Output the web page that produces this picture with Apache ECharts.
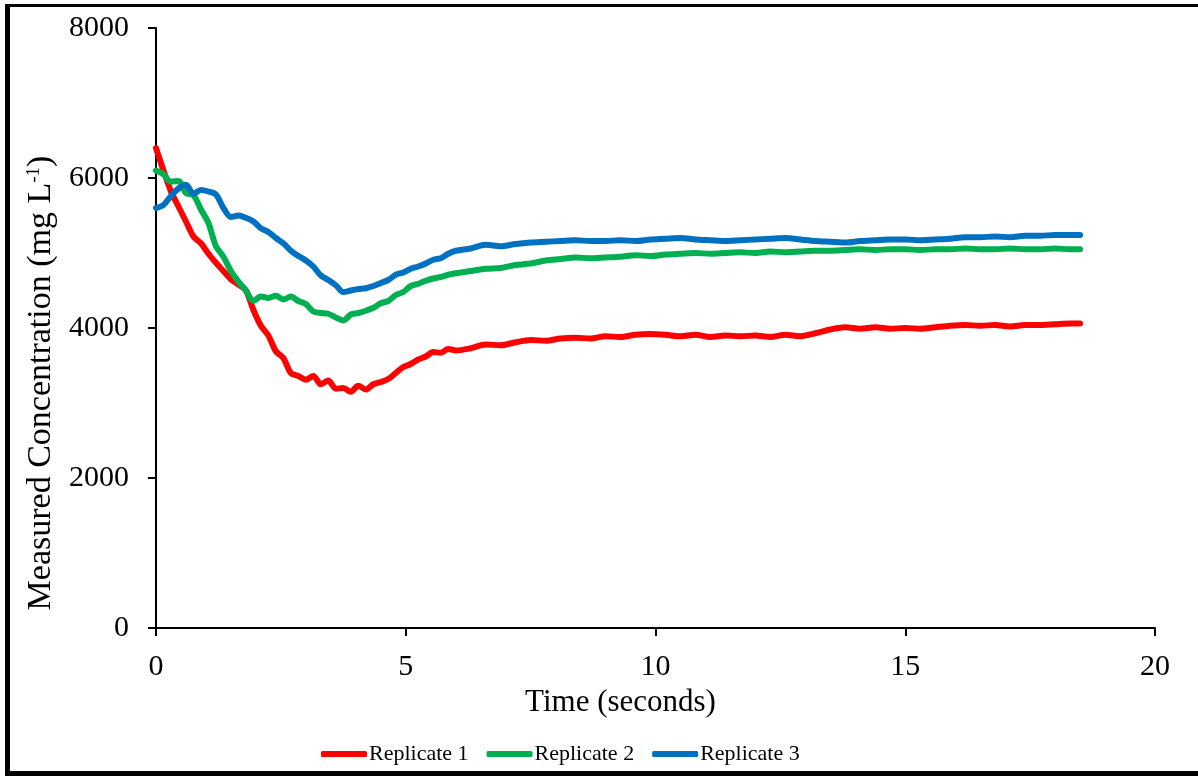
<!DOCTYPE html>
<html>
<head>
<meta charset="utf-8">
<script src="https://cdn.jsdelivr.net/npm/echarts@6/dist/echarts.min.js"></script>
<style>
html,body{margin:0;padding:0;background:#fff;}
#chart{width:1198px;height:776px;}
</style>
</head>
<body>
<div id="chart"></div>
<script>
// ---- data ----
const seriesNames = ['Replicate 1', 'Replicate 2', 'Replicate 3'];
const xTicks = [0, 5, 10, 15, 20];
const yTicks = [0, 2000, 4000, 6000, 8000];
const time = [0,0.15,0.3,0.45,0.6,0.75,0.9,1.05,1.2,1.35,1.5,1.65,1.8,1.95,2.1,2.25,2.4,2.55,2.7,2.85,3.0,3.15,3.3,3.45,3.6,3.75,3.9,4.05,4.2,4.35,4.5,4.65,4.8,4.95,5.1,5.25,5.4,5.55,5.7,5.85,6.0,
  6.3,6.6,6.9,7.2,7.5,7.8,8.1,8.4,8.7,9.0,9.3,9.6,9.9,10.2,10.5,10.8,11.1,11.4,11.7,12.0,12.3,12.6,12.9,13.2,13.5,13.8,14.1,14.4,14.7,15.0,15.3,15.6,15.9,16.2,16.5,16.8,17.1,17.4,17.7,18.0,18.3,18.5];
const replicate1 = [6400,6100,5820,5620,5420,5220,5130,4990,4870,4760,4650,4580,4500,4240,4030,3900,3690,3600,3400,3360,3310,3360,3250,3300,3190,3200,3150,3230,3180,3250,3280,3320,3400,3480,3520,3580,3620,3680,3670,3720,3700,
  3730,3780,3770,3810,3840,3830,3860,3870,3860,3890,3880,3910,3920,3910,3890,3910,3880,3900,3890,3900,3880,3910,3890,3930,3980,4010,3990,4010,3990,4000,3990,4010,4030,4040,4030,4040,4020,4040,4040,4050,4060,4060];
const replicate2 = [6100,6050,5950,5960,5800,5770,5580,5400,5090,4950,4760,4620,4500,4360,4420,4400,4430,4380,4420,4360,4320,4220,4200,4190,4140,4100,4180,4200,4230,4270,4330,4360,4440,4480,4560,4590,4630,4660,4680,4710,4730,
  4760,4790,4800,4840,4860,4900,4920,4940,4930,4940,4950,4970,4960,4980,4990,5000,4990,5000,5010,5000,5020,5010,5020,5030,5030,5040,5050,5040,5050,5050,5040,5050,5050,5060,5050,5050,5060,5050,5050,5060,5050,5050];
const replicate3 = [5600,5640,5760,5860,5910,5790,5840,5820,5780,5600,5480,5500,5470,5420,5330,5280,5200,5130,5030,4960,4900,4820,4700,4640,4570,4480,4500,4520,4530,4560,4600,4640,4710,4740,4790,4820,4860,4910,4930,4990,5030,
  5060,5110,5090,5120,5140,5150,5160,5170,5160,5160,5170,5160,5180,5190,5200,5180,5170,5160,5170,5180,5190,5200,5180,5160,5150,5140,5160,5170,5180,5180,5170,5180,5190,5210,5210,5220,5210,5230,5230,5240,5240,5240];
const colors = ['#FF0000', '#00B050', '#0070C0'];

const allValues = [replicate1, replicate2, replicate3];
const FONT = '"Liberation Serif", "Times New Roman", serif';

const chart = echarts.init(document.getElementById('chart'), null, {renderer: 'canvas'});
const option = {
  backgroundColor: '#ffffff',
  animation: false,
  textStyle: {fontFamily: FONT, color: '#000'},
  grid: {left: 156, right: 43, top: 28, bottom: 148, containLabel: false},
  legend: {
    data: seriesNames,
    bottom: 6,
    left: 316,
    itemWidth: 46,
    itemHeight: 6,
    itemGap: 18,
    icon: 'roundRect',
    textStyle: {fontFamily: FONT, fontSize: 22, color: '#000', padding: [0, 0, 0, -3]}
  },
  xAxis: {
    type: 'value',
    min: xTicks[0], max: xTicks[xTicks.length - 1], interval: 5,
    name: 'Time (seconds)',
    nameLocation: 'middle',
    nameGap: 59,
    nameTextStyle: {fontFamily: FONT, fontSize: 31, color: '#000', padding: [0, 70, 0, 0]},
    axisLine: {lineStyle: {color: '#000', width: 2}},
    axisTick: {show: true, length: 8, lineStyle: {color: '#000', width: 2}},
    axisLabel: {fontFamily: FONT, fontSize: 30, color: '#000', margin: 24},
    splitLine: {show: false}
  },
  yAxis: {
    type: 'value',
    min: yTicks[0], max: yTicks[yTicks.length - 1], interval: 2000,
    name: 'Measured Concentration (mg L{sup|-1})',
    nameLocation: 'middle',
    nameGap: 92,
    nameTextStyle: {fontFamily: FONT, fontSize: 34, color: '#000', padding: [0, 110, 0, 0],
      rich: {sup: {fontFamily: FONT, fontSize: 19, verticalAlign: 'top', padding: [0,0,14,0], color: '#000'}}},
    axisLine: {show: true, lineStyle: {color: '#000', width: 2}},
    axisTick: {show: true, length: 8, lineStyle: {color: '#000', width: 2}},
    axisLabel: {fontFamily: FONT, fontSize: 30, color: '#000', margin: 27, formatter: v => String(v)},
    splitLine: {show: false}
  },
  graphic: [
    {type: 'rect', shape: {x: 5, y: 4, width: 5, height: 772}, style: {fill: '#000'}, silent: true},
    {type: 'rect', shape: {x: 5, y: 4, width: 1193, height: 3}, style: {fill: '#000'}, silent: true},
    {type: 'rect', shape: {x: 5, y: 771, width: 1193, height: 5}, style: {fill: '#000'}, silent: true}
  ],
  series: seriesNames.map((n, i) => ({
    name: n,
    type: 'line',
    data: time.map((t, k) => [t, allValues[i][k]]),
    showSymbol: false,
    smooth: 0.3,
    lineStyle: {color: colors[i], width: 6, cap: 'round', join: 'round'},
    itemStyle: {color: colors[i]}
  }))
};
chart.setOption(option);
</script>
</body>
</html>
